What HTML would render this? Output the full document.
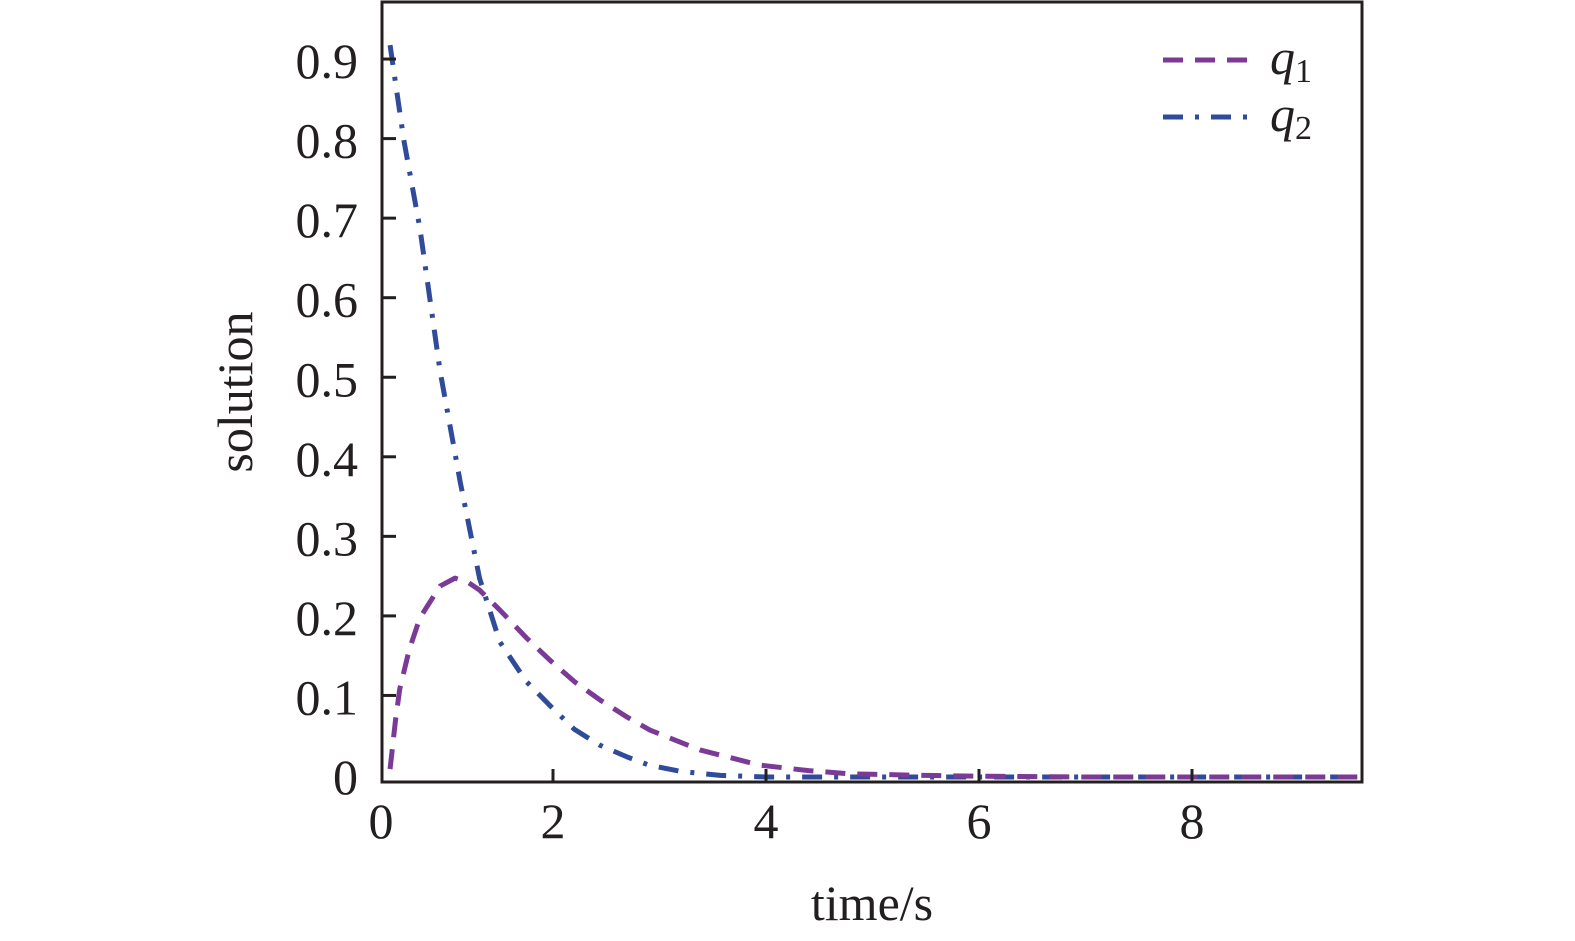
<!DOCTYPE html>
<html><head><meta charset="utf-8"><style>
body{margin:0;background:#fff}
svg{display:block;font-family:"Liberation Serif",serif}
</style></head><body>
<svg id="chart" width="1575" height="941" viewBox="0 0 1575 941" xmlns="http://www.w3.org/2000/svg">
<g id="marks"></g>
<rect x="382" y="2" width="980" height="780" fill="none" stroke="#231f20" stroke-width="3"/>
<g id="axes" fill="#231f20" font-size="50"></g>
<text x="252" y="392" font-size="50" text-anchor="middle" transform="rotate(-90 252 392)" fill="#231f20">solution</text>
<text x="872" y="920" font-size="50" text-anchor="middle" fill="#231f20">time/s</text>
<g>
<line x1="1163" y1="60" x2="1250" y2="60" stroke="#7b3a96" stroke-width="5" stroke-dasharray="20,12"/>
<text x="1270" y="74" font-size="50" font-style="italic" fill="#231f20">q<tspan font-style="normal" font-size="34" dy="8">1</tspan></text>
<line x1="1163" y1="117" x2="1250" y2="117" stroke="#2f4b9a" stroke-width="5" stroke-dasharray="20,12,4,12"/>
<text x="1270" y="131" font-size="50" font-style="italic" fill="#231f20">q<tspan font-style="normal" font-size="34" dy="8">2</tspan></text>
</g>
</svg>
<script>
const xTicks=[2,4,6,8];
const yTicks=[0,0.1,0.2,0.3,0.4,0.5,0.6,0.7,0.8,0.9];
const yTickLabels=["0","0.1","0.2","0.3","0.4","0.5","0.6","0.7","0.8","0.9"];
const q2T=[0.47,0.6,0.75,0.94,1.13,1.31,1.5,1.75,1.97,2.2,2.44,2.7,2.9,3.2,3.57,4,5,6,7,8,9,9.6];
const q2V=[0.92,0.8,0.69,0.51,0.37,0.25,0.17,0.12,0.09,0.06,0.04,0.025,0.015,0.007,0.002,0,0,0,0,0,0,0];
const q1T=[0.47,0.52,0.56,0.65,0.75,0.94,1.08,1.2,1.31,1.5,1.75,1.97,2.2,2.44,2.7,2.91,3.38,3.94,4.4,4.79,5.5,6,7,8,9,9.6];
const q1V=[0.01,0.07,0.11,0.16,0.2,0.24,0.25,0.245,0.235,0.21,0.175,0.147,0.12,0.097,0.075,0.059,0.034,0.015,0.008,0.004,0.002,0.001,0,0,0,0];
const X=t=>340+t*106.5;
const Y=v=>777-v*795.5;
const NS="http://www.w3.org/2000/svg";
const marks=document.getElementById('marks'),axes=document.getElementById('axes');
function line(ts,vs,color,dash,name){
 const p=document.createElementNS(NS,'polyline');
 p.setAttribute('points',ts.map((t,i)=>X(t)+','+Y(vs[i])).join(' '));
 p.setAttribute('fill','none');p.setAttribute('stroke',color);p.setAttribute('stroke-width','5');
 p.setAttribute('stroke-dasharray',dash);p.setAttribute('stroke-linejoin','round');
 
 
 marks.appendChild(p);
}
line(q2T,q2V,'#2f4b9a','20,12,4,12','series-q2');
line(q1T,q1V,'#7b3a96','20,12','series-q1');
xTicks.forEach(t=>{
 const l=document.createElementNS(NS,'line');
 l.setAttribute('x1',X(t));l.setAttribute('x2',X(t));l.setAttribute('y1',769);l.setAttribute('y2',782);
 l.setAttribute('stroke','#231f20');l.setAttribute('stroke-width','3');
 
 
 axes.appendChild(l);
 const tx=document.createElementNS(NS,'text');
 tx.setAttribute('x',X(t));tx.setAttribute('y',838);tx.setAttribute('text-anchor','middle');tx.textContent=t;
 
 
 axes.appendChild(tx);
});
const z=document.createElementNS(NS,'text');
z.setAttribute('x',381);z.setAttribute('y',838);z.setAttribute('text-anchor','middle');z.textContent='0';


axes.appendChild(z);
yTicks.forEach((v,i)=>{
 if(v>0){
 const l=document.createElementNS(NS,'line');
 l.setAttribute('x1',382);l.setAttribute('x2',396);l.setAttribute('y1',Y(v)-2);l.setAttribute('y2',Y(v)-2);
 l.setAttribute('stroke','#231f20');l.setAttribute('stroke-width','3');
 
 
 axes.appendChild(l);}
 const tx=document.createElementNS(NS,'text');
 tx.setAttribute('x',358);tx.setAttribute('y',Y(v)+17);tx.setAttribute('text-anchor','end');tx.textContent=yTickLabels[i];
 
 
 axes.appendChild(tx);
});
</script>
</body></html>
